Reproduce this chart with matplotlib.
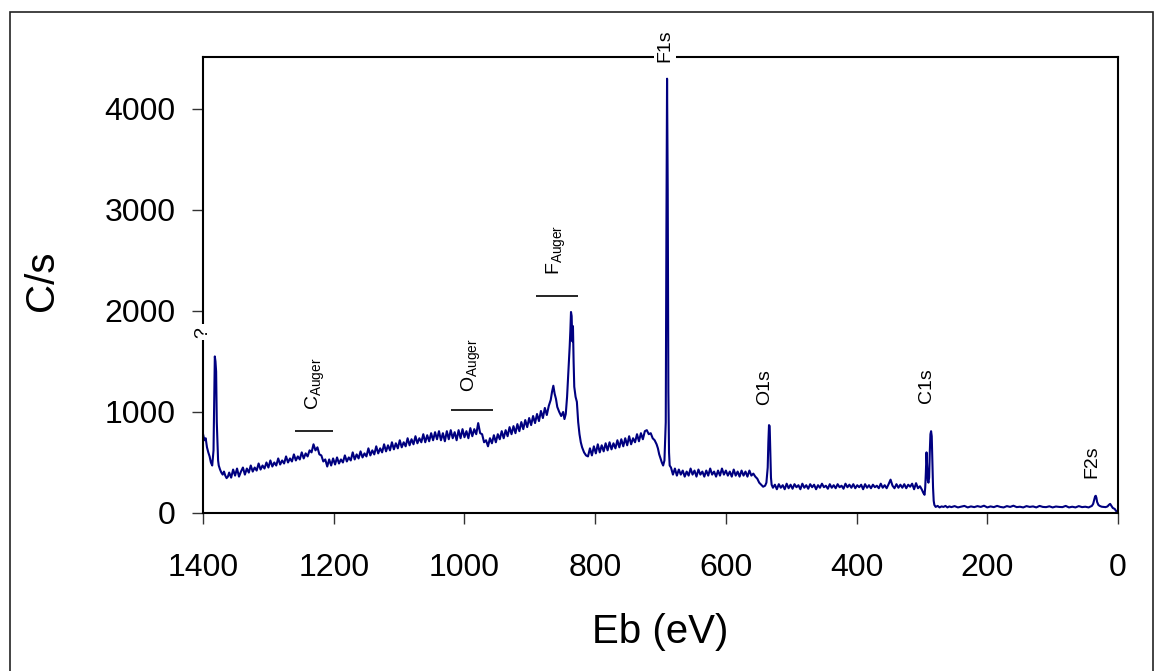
import numpy as np
import matplotlib
matplotlib.use('Agg')
import matplotlib.pyplot as plt
from matplotlib.patches import Rectangle

plt.rcParams['font.family'] = ['Liberation Sans', 'DejaVu Sans']
plt.rcParams['mathtext.fontset'] = 'custom'
plt.rcParams['mathtext.rm'] = 'Liberation Sans'

# spectrum: binding energy (eV) and counts per second
eb = [1400, 1398, 1396, 1394, 1392, 1390, 1388, 1386, 1384, 1383, 1382, 1381, 1380, 1379, 1378, 1377, 1376,
      1374, 1372, 1370, 1368, 1366, 1364, 1362,
      1360, 1357, 1354, 1351, 1348, 1345, 1342, 1339, 1336, 1333,
      1330, 1327, 1324, 1321, 1318, 1315, 1312, 1309, 1306, 1303,
      1300, 1297, 1294, 1291, 1288, 1285, 1282, 1279, 1276, 1273,
      1270, 1267, 1264, 1261, 1258, 1255, 1252, 1249, 1246, 1243, 1240,
      1237, 1234, 1231, 1228, 1225, 1222, 1219, 1216, 1213, 1210,
      1207, 1204, 1201, 1198, 1195, 1192, 1189, 1186, 1183, 1180,
      1177, 1174, 1171, 1168, 1165, 1162, 1159, 1156, 1153, 1150,
      1147, 1144, 1141, 1138, 1135, 1132, 1129, 1126, 1123, 1120,
      1117, 1114, 1111, 1108, 1105, 1102, 1099, 1096, 1093, 1090,
      1087, 1084, 1081, 1078, 1075, 1072, 1069, 1066, 1063, 1060,
      1057, 1054, 1051, 1048, 1045, 1042, 1039, 1036, 1033, 1030,
      1027, 1024, 1021, 1018, 1015, 1012, 1009, 1006, 1003, 1000,
      997, 994, 991, 988, 985, 982, 979, 976, 973, 970,
      967, 964, 961, 958, 955, 952, 949, 946, 943, 940,
      937, 934, 931, 928, 925, 922, 919, 916, 913, 910,
      907, 904, 901, 898, 895, 892, 889, 886, 883, 880,
      877, 874, 871,
      868, 866, 864, 862, 860, 858, 855, 852, 849, 847, 845, 843, 841, 839, 838, 837, 836, 835, 834, 833,
      832, 830, 828, 826, 824, 822, 820, 817, 814, 811,
      808, 805, 802, 799, 796, 793, 790, 787, 784, 781,
      778, 775, 772, 769, 766, 763, 760, 757, 754, 751,
      748, 745, 742, 739, 736, 733, 730, 727, 724,
      721, 718, 715, 712, 709, 706, 704, 702, 700, 698, 696, 694, 692, 691, 690, 689, 688, 687, 686,
      684, 681, 678, 675, 672, 669, 666, 663, 660, 657,
      654, 651, 648, 645, 642, 639, 636, 633, 630, 627,
      624, 621, 618, 615, 612, 609, 606, 603, 600, 597,
      594, 591, 588, 585, 582, 579, 576, 573, 570, 567,
      564, 561, 558,
      555, 552, 549, 546, 543, 540, 538, 536, 535, 534, 533, 532, 531, 530,
      528, 525, 522, 519, 516, 513, 510, 507, 504, 501,
      498, 495, 492, 489, 486, 483, 480, 477, 474, 471,
      468, 465, 462, 459, 456, 453, 450, 447, 444, 441,
      438, 435, 432, 429, 426, 423, 420, 417, 414, 411,
      408, 405, 402, 399, 396, 393, 390, 387, 384, 381,
      378, 375, 372, 369, 366, 363, 360, 357, 354, 351,
      348, 345, 342, 339, 336, 333, 330, 327, 324, 321,
      318, 315, 312, 309, 306, 303,
      300, 298, 296, 295, 294, 293, 292, 291, 290, 289, 288, 287, 286, 285, 284, 283, 282, 281, 279,
      276, 273, 270, 267, 264, 261, 258, 255,
      250, 245, 240, 235, 230, 225, 220, 215, 210, 205,
      200, 195, 190, 185, 180, 175, 170, 165, 160, 155,
      150, 145, 140, 135, 130, 125, 120, 115, 110, 105,
      100, 95, 90, 85, 80, 75, 70, 65, 60, 55,
      50, 45, 40, 38, 36, 35, 34, 33, 32, 30, 28, 25, 22, 19, 16, 14, 12, 10, 8, 5, 3, 0]
cps = [780, 720, 740, 650, 600, 560, 500, 470, 620, 1100, 1550, 1500, 1400, 900, 700, 520, 470,
       430, 400, 380, 410, 370, 345, 360,
       400, 350, 430, 370, 440, 360, 410, 450, 380, 440,
       400, 470, 410, 450, 420, 490, 430, 470, 440, 500,
       450, 520, 460, 500, 470, 540, 480, 520, 490, 560,
       500, 540, 510, 580, 520, 560, 530, 600, 540, 590, 560,
       620, 600, 680, 620, 650, 580, 570, 510, 530, 460,
       530, 470, 540, 480, 550, 490, 530, 500, 570, 510,
       550, 520, 600, 530, 580, 540, 610, 550, 590, 560,
       640, 570, 620, 580, 660, 590, 640, 600, 680, 610,
       670, 620, 700, 630, 690, 640, 720, 650, 700, 660,
       740, 670, 730, 680, 760, 690, 740, 700, 780, 700,
       770, 710, 790, 720, 800, 730, 810, 720, 790, 710,
       810, 730, 820, 740, 800, 720, 820, 740, 830, 750,
       810, 740, 840, 760, 830, 780, 890, 790, 780, 700,
       720, 660, 740, 690, 770, 700, 780, 730, 810, 740,
       820, 760, 850, 780, 860, 790, 880, 810, 900, 830,
       920, 850, 940, 870, 960, 890, 980, 910, 1010, 940,
       1040, 970, 1060,
       1120, 1200, 1260, 1180, 1130, 1050, 1000, 960, 1000, 930, 980, 1150, 1400, 1650, 1800, 1990, 1950, 1700, 1850, 1500,
       1250, 1150, 1100, 900, 780, 700, 650, 600, 570, 560,
       640, 570, 660, 590, 680, 600, 670, 610, 690, 620,
       700, 630, 690, 640, 720, 650, 730, 660, 740, 670,
       760, 680, 740, 700, 780, 710, 790, 730, 810,
       820, 780, 790, 740, 720, 680, 640, 580, 540, 500, 470, 520, 900, 2800, 4300, 3200, 1200, 600, 470,
       450, 380, 440, 370, 430, 380, 420, 360, 410, 370,
       440, 380, 420, 360, 430, 380, 410, 360, 420, 370,
       440, 380, 410, 360, 420, 370, 440, 380, 420, 370,
       410, 360, 430, 370, 410, 360, 420, 370, 410, 360,
       420, 370, 390,
       360, 340, 300, 280, 260, 270, 300, 450, 700, 870, 860, 600, 350, 280,
       250, 280, 235, 285, 250, 275, 235, 290, 245, 280,
       240, 285, 255, 275, 235, 290, 250, 275, 240, 285,
       255, 280, 235, 275, 250, 290, 255, 270, 240, 285,
       250, 275, 245, 285, 255, 270, 240, 290, 255, 280,
       250, 285, 245, 275, 255, 280, 235, 285, 250, 275,
       245, 280, 255, 270, 245, 290, 250, 275, 245, 285,
       330, 270, 245, 285, 250, 280, 250, 285, 245, 280,
       260, 290, 235, 295, 245, 265,
       230, 200, 180, 250, 400, 600, 450, 320, 300, 350, 600, 780, 810, 760, 500, 250, 120, 80, 60,
       70, 55, 65, 60, 70, 55, 65, 58,
       68, 55, 62, 70, 55, 65, 58, 68, 60, 72,
       55, 65, 58, 70, 60, 55, 68, 60, 72, 58,
       62, 55, 68, 60, 65, 55, 70, 60, 58, 66,
       55, 64, 60, 58, 70, 55, 62, 55, 68, 58,
       62, 55, 70, 90, 140, 165, 170, 150, 110, 80, 70, 62, 60, 58, 65, 80, 90, 70, 50, 40, 20, 15]

# peak labels: text, position in eV, counts at the bottom of the text
peak_names = ['?', r'C$_{\mathrm{Auger}}$', r'O$_{\mathrm{Auger}}$', r'F$_{\mathrm{Auger}}$',
              'F1s', 'O1s', 'C1s', 'F2s']
peak_x = [1400, 1229, 989, 859, 693, 540, 293, 40]
peak_y = [1735, 1020, 1200, 2356, 4465, 1069, 1089, 347]
# Auger range bars
bar_x0 = [1260, 1020, 890]
bar_x1 = [1201, 957, 827]
bar_y = [815, 1020, 2149]

fig = plt.figure(figsize=(11.63, 6.71), dpi=100)
ax = fig.add_axes([0.1746, 0.2355, 0.9613 - 0.1746, 0.9151 - 0.2355])

ax.plot(eb, cps, color='#000080', lw=1.5, zorder=2)
ax.hlines(bar_y, bar_x0, bar_x1, color='black', lw=1.2)

for name, x, y in zip(peak_names, peak_x, peak_y):
    t = ax.text(x, y, name, rotation=90, ha='center', va='bottom', fontsize=14,
                zorder=5, clip_on=False)
    if name in ('?', 'F1s'):
        t.set_bbox(dict(facecolor='white', edgecolor='none', pad=2))

ax.set_xlim(1400, 0)
ax.set_ylim(0, 4515)
ax.set_xticks(np.arange(0, 1401, 200))
ax.set_yticks(np.arange(0, 4001, 1000))
ax.tick_params(axis='both', direction='out', length=8, width=1, color='#333333', labelsize=23)
ax.tick_params(axis='x', pad=21)
ax.tick_params(axis='y', pad=12)
for sp in ax.spines.values():
    sp.set_linewidth(1.5)
    sp.set_zorder(3)

ax.set_xlabel('Eb (eV)', fontsize=29, va='center')
ax.xaxis.set_label_coords(0.5, -0.261)
ax.set_ylabel('C/s', fontsize=29, va='center')
ax.yaxis.set_label_coords(-0.176, 0.509)

fig.patches.append(Rectangle((10 / 1163, -0.05), 1143 / 1163, 1.05 - 12 / 671,
                             transform=fig.transFigure, fill=False, edgecolor='#222222', lw=1.2))

fig.savefig('out.png', dpi=100)
